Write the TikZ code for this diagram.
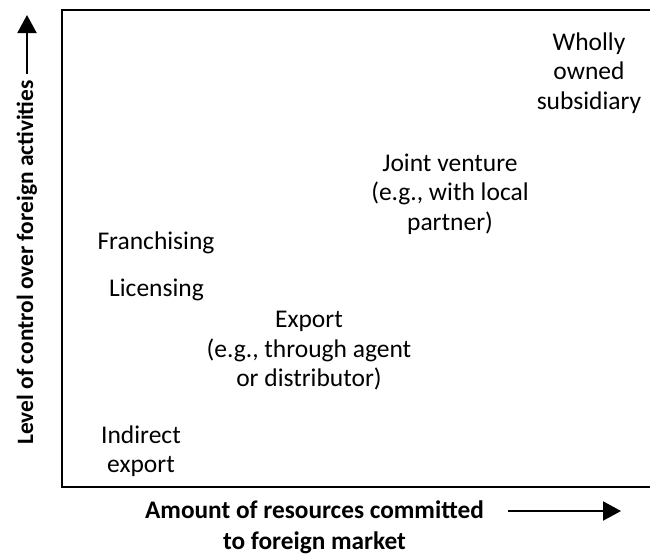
\documentclass[tikz,border=0pt]{standalone}
\usepackage{fontspec}
\setmainfont{Carlito}
\usetikzlibrary{arrows.meta}
\begin{document}
\begin{tikzpicture}[x=1pt,y=-1pt,
  lbl/.style={align=center,inner sep=0pt,font=\fontsize{25.5}{29.5}\selectfont},
  axlbl/.style={align=center,inner sep=0pt,font=\fontsize{25.3}{31}\selectfont\bfseries},
  yaxlbl/.style={inner sep=0pt,font=\fontsize{23.4}{28}\selectfont\bfseries},
  axarrow/.style={line width=2pt,-{Triangle[length=18pt,width=19pt]}}]
\useasboundingbox (0,0) rectangle (650,557);
% frame (open at the right)
\draw[line width=2pt] (652,10) -- (62,10) -- (62,487) -- (652,487);
% labels
\node[lbl] (wos) at (589,73) {Wholly\\owned\\subsidiary};
\node[lbl] (jv) at (450,194) {Joint venture\\(e.g., with local\\partner)};
\node[lbl] (fr) at (156,243) {Franchising};
\node[lbl] (li) at (156.5,290) {Licensing};
\node[lbl] (ex) at (309,351) {Export\\(e.g., through agent\\or distributor)};
\node[lbl] (ie) at (141,451) {Indirect\\export};
% axis labels
\node[yaxlbl,rotate=90] (ylab) at (27,262.5) {Level of control over foreign activities};
\node[axlbl] (xlab) at (314.5,527.5) {Amount of resources committed\\to foreign market};
% axis arrows
\coordinate (ystart) at (27,74);
\coordinate (ytip) at (27,15);
\draw[axarrow] (ystart) -- (ytip);
\coordinate (xstart) at (508,511);
\coordinate (xtip) at (621,511);
\draw[axarrow] (xstart) -- (xtip);
\end{tikzpicture}
\end{document}
